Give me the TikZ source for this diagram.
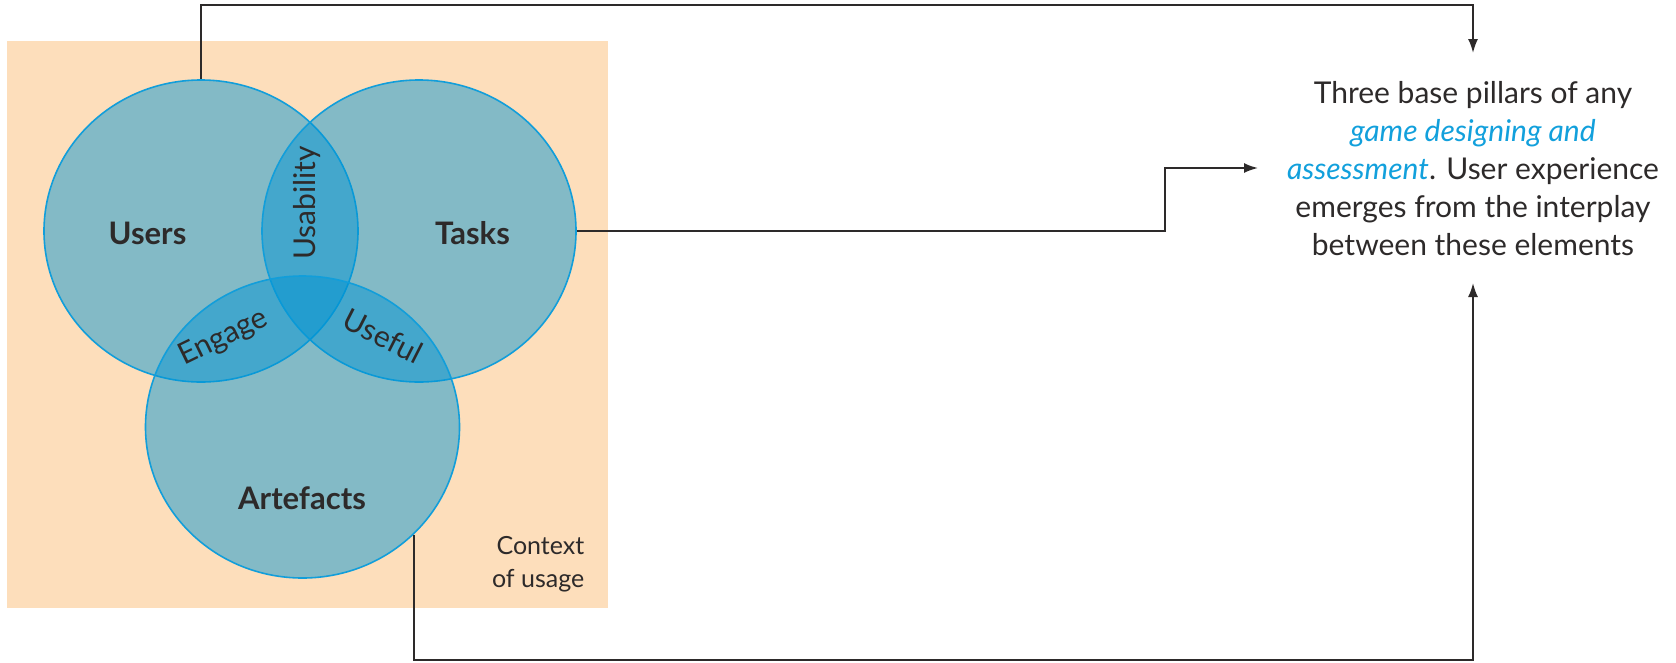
\documentclass[tikz,border=0pt]{standalone}
\usepackage{fontspec}
\setmainfont{Lato}
\usetikzlibrary{shapes.geometric,arrows.meta}
\definecolor{ctxbg}{RGB}{253,222,187}
\definecolor{venn}{RGB}{0,148,212}
\definecolor{vennline}{RGB}{18,158,218}
\definecolor{ink}{RGB}{45,42,42}
\definecolor{accent}{RGB}{18,160,220}
\begin{document}
\begin{tikzpicture}[x=1pt,y=-1pt,
  pillar/.style={ellipse, minimum width=314pt, minimum height=302pt, inner sep=0pt,
    fill=venn, fill opacity=0.48, draw=vennline, draw opacity=1, line width=1.6pt},
  pillarlabel/.style={font=\fontsize{31}{36}\selectfont\bfseries, text=ink, inner sep=0pt, anchor=base},
  overlap/.style={font=\fontsize{30}{34}\selectfont, text=ink, inner sep=0pt, anchor=base},
  conn/.style={draw=ink, line width=1.8pt, -{Latex[length=14pt,width=10pt]}}
]
\useasboundingbox (0,0) rectangle (1676,662);

% context of usage background
\node[fill=ctxbg, minimum width=601pt, minimum height=567pt, inner sep=0pt, anchor=north west] (context) at (7,41) {};

% the three pillars
\node[pillar] (users) at (201,231) {};
\node[pillar] (tasks) at (419,231) {};
\node[pillar] (artefacts) at (302.5,427) {};

\node[pillarlabel] (lusers) at (147.5,244) {Users};
\node[pillarlabel] (ltasks) at (472.5,244) {Tasks};
\node[pillarlabel] (lartefacts) at (302,509.5) {Artefacts};

% overlaps
\node[overlap, rotate=90] (lusability) at (315,203) {Usability};
\node[overlap, rotate=26] (lengage) at (227,345) {Engage};
\node[overlap, rotate=-27] (luseful) at (378,346) {Useful};

\node[font=\fontsize{25}{33}\selectfont, text=ink, align=right, inner sep=0pt, anchor=south east]
  (lcontext) at (584.5,592) {Context\\of usage};

% explanation
\node[font=\fontsize{30}{38}\selectfont, text=ink, align=center, inner sep=0pt, anchor=north]
  (pillars) at (1473,81) 
  {Three base pillars of any\\
   \textcolor{accent}{\itshape game designing and}\\
   \textcolor{accent}{\itshape assessment}. User experience\\
   emerges from the interplay\\
   between these elements};

\coordinate (intop) at (1473,53);
\coordinate (inleft) at (1258,168);
\coordinate (inbottom) at (1473,283);

% connectors
\draw[conn] (users.north) -- (users.north |- 0,5) -| (intop);
\draw[conn] (tasks.east) -- (tasks.east -| 1165,0) |- (inleft);
\draw[conn] (artefacts.-44) -- (artefacts.-44 |- 0,660) -| (inbottom);
\end{tikzpicture}
\end{document}
